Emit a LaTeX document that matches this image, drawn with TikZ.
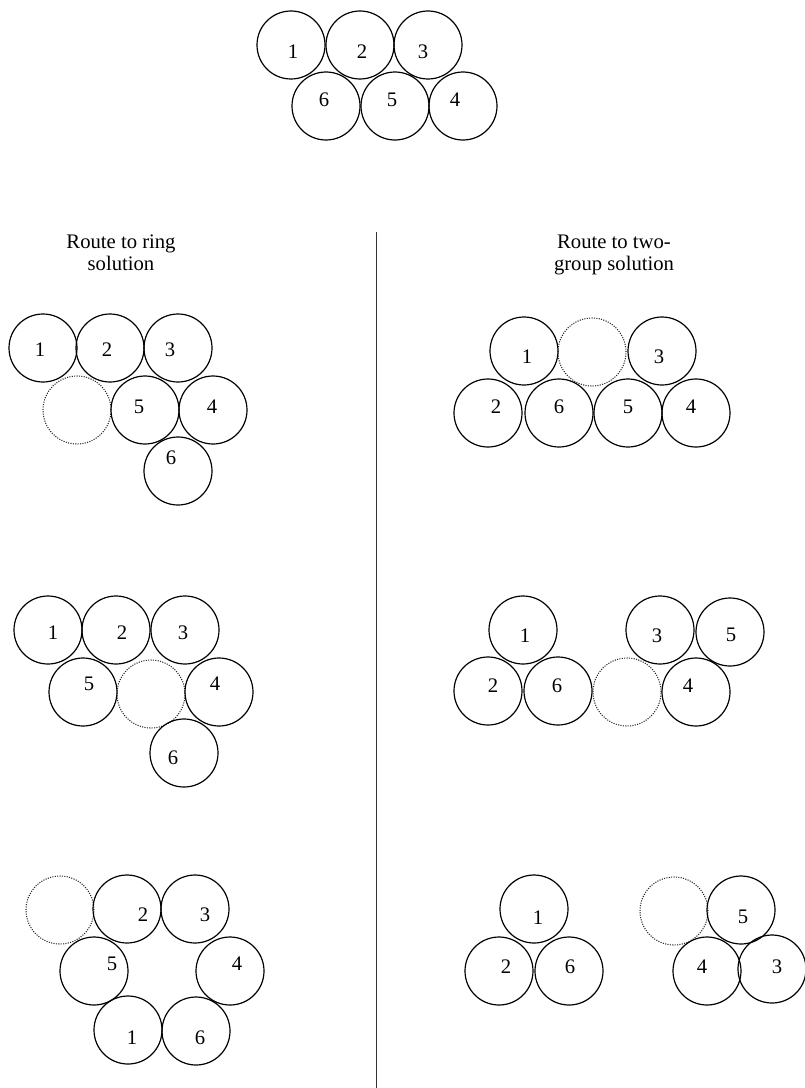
\documentclass[tikz,border=0pt]{standalone}
\usepackage{fontspec}
\setmainfont{Liberation Serif}
\tikzset{
  ball/.style={circle, draw=black, line width=0.9pt, minimum size=51pt, inner sep=0pt},
  ghost/.style={circle, draw=black!85, line width=0.8pt, dash pattern=on 0.8pt off 1.0pt, minimum size=51pt, inner sep=0pt},
  lab/.style={inner sep=0pt, font=\fontsize{15.5}{16}\selectfont},
  head/.style={inner sep=0pt, anchor=base, font=\fontsize{15.5}{16}\selectfont},
  divider/.style={line width=0.7pt, black!80}
}
\newcommand\ballnode[4]{\node[ball] (#1) at (#2) {}; \node[lab] (#1t) at (#3) {#4};}
\newcommand\ghostnode[2]{\node[ghost] (#1) at (#2) {};}
\begin{document}
\begin{tikzpicture}[x=0.75pt,y=-0.75pt]
\useasboundingbox (0,0) rectangle (805,1088);
% top arrangement
\ballnode{t1}{291,45}{293,52}{1}
\ballnode{t2}{360,45}{362,52}{2}
\ballnode{t3}{428,45}{423,52}{3}
\ballnode{t6}{326,106}{324,100}{6}
\ballnode{t5}{395,106}{392,100}{5}
\ballnode{t4}{463,106}{455,100}{4}
% headers
\node[head] (hl1) at (121,248) {Route to ring};
\node[head] (hl2) at (121,270) {solution};
\node[head] (hr1) at (614,248) {Route to two-};
\node[head] (hr2) at (614,270) {group solution};
% divider
\coordinate (dtop) at (376,232);
\coordinate (dbot) at (376,1088);
\draw[divider] (dtop) -- (dbot);
% left A
\ballnode{la1}{43,348}{40,350}{1}
\ballnode{la2}{110,348}{107,350}{2}
\ballnode{la3}{178,348}{170,350}{3}
\ghostnode{lag}{77,410}
\ballnode{la5}{145,410}{139,407}{5}
\ballnode{la4}{213,410}{212,407}{4}
\ballnode{la6}{178,471}{171,458}{6}
% right A
\ballnode{ra1}{524,351}{527,357}{1}
\ghostnode{rag}{592,352}
\ballnode{ra3}{662,351}{659,357}{3}
\ballnode{ra2}{488,413}{496,407}{2}
\ballnode{ra6}{559,413}{559,407}{6}
\ballnode{ra5}{628,413}{628,407}{5}
\ballnode{ra4}{696,413}{691,407}{4}
% left B
\ballnode{lb1}{48,630}{53,633}{1}
\ballnode{lb2}{116,630}{122,633}{2}
\ballnode{lb3}{185,630}{183,633}{3}
\ballnode{lb5}{83,692}{89,684}{5}
\ghostnode{lbg}{151,694}
\ballnode{lb4}{219,692}{215,684}{4}
\ballnode{lb6}{184,753}{173,758}{6}
% right B
\ballnode{rb1}{523,630}{525,636}{1}
\ballnode{rb3}{660,630}{657,636}{3}
\ballnode{rb5}{730,632}{731,635}{5}
\ballnode{rb2}{488,691}{493,686}{2}
\ballnode{rb6}{558,691}{557,686}{6}
\ghostnode{rbg}{627,692}
\ballnode{rb4}{696,692}{688,686}{4}
% left C
\ghostnode{lcg}{60,910}
\ballnode{lc2}{127,909}{143,915}{2}
\ballnode{lc3}{195,909}{205,915}{3}
\ballnode{lc5}{94,971}{112,964}{5}
\ballnode{lc4}{230,971}{237,964}{4}
\ballnode{lc1}{128,1030}{132,1038}{1}
\ballnode{lc6}{196,1031}{200,1038}{6}
% right C
\ballnode{rc1}{534,909}{538,918}{1}
\ballnode{rc2}{499,971}{506,967}{2}
\ballnode{rc6}{569,971}{570,967}{6}
\ghostnode{rcg}{674,911}
\ballnode{rc5}{741,910}{743,917}{5}
\ballnode{rc4}{707,971}{702,967}{4}
\ballnode{rc3}{772,969}{777,967}{3}
\end{tikzpicture}
\end{document}
